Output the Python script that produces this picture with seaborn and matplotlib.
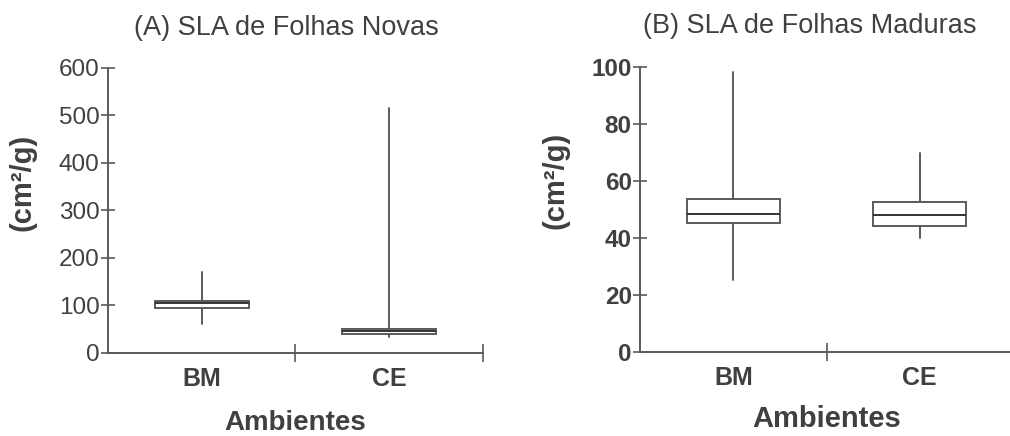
import matplotlib
matplotlib.use("Agg")
import matplotlib.pyplot as plt
import seaborn as sns

groups = ["BM", "CE"]

# (A) folhas novas - summary
novas_med = [105, 46]
novas_q1 = [95, 39]
novas_q3 = [110, 50]
novas_lo = [61, 34]
novas_hi = [170, 515]

# (B) folhas maduras
maduras_med = [48.5, 48.0]
maduras_q1 = [45.3, 44.2]
maduras_q3 = [53.5, 52.5]
maduras_lo = [25.4, 40.0]
maduras_hi = [98.0, 69.7]

sns.set_style("ticks")
plt.rcParams['font.family'] = ['Liberation Sans', 'DejaVu Sans']

txt = "#404040"
line = "#5a5a5a"


def stats(med, q1, q3, lo, hi):
    out = []
    for i in range(len(groups)):
        out.append({
            'label': groups[i],
            'med': med[i],
            'q1': q1[i],
            'q3': q3[i],
            'whislo': lo[i],
            'whishi': hi[i],
            'fliers': [],
        })
    return out


def draw(ax, st, ymax, step, title, title_x, bold_ticks, xl_size, xl_pad):
    ax.bxp(
        st,
        positions=[1, 2],
        widths=0.5,
        showcaps=False,
        showfliers=False,
        patch_artist=True,
        boxprops=dict(facecolor="white", edgecolor=line, linewidth=1.4),
        whiskerprops=dict(color=line, linewidth=1.4),
        medianprops=dict(color="#333333", linewidth=1.4),
    )
    ax.set_xlim(0.5, 2.5)
    ax.set_ylim(0, ymax)
    ax.set_yticks(range(0, ymax + 1, step))
    ax.set_xticks([1.5, 2.5])
    ax.set_xticklabels(["", ""])
    ax.set_xticks([1, 2], minor=True)
    ax.set_xticklabels(groups, minor=True, fontsize=18, fontweight="bold", color=txt)
    ax.tick_params(axis="x", which="minor", length=0, pad=10)
    ax.tick_params(axis="x", which="major", direction="inout", length=13, width=1.2, color=line)
    ax.tick_params(axis="y", direction="inout", length=10, width=1.2, color=line,
                   labelsize=17.5, labelcolor=txt, pad=1)
    if bold_ticks:
        for t in ax.get_yticklabels():
            t.set_fontweight("bold")
    sns.despine(ax=ax)
    for s in ["left", "bottom"]:
        ax.spines[s].set_color(line)
        ax.spines[s].set_linewidth(1.4)
    ax.set_ylabel("(cm²/g)", fontsize=21, fontweight="bold", color=txt)
    ax.yaxis.set_label_coords(-0.19, 0.60)
    ax.set_xlabel("Ambientes", fontsize=xl_size, fontweight="bold", color=txt, labelpad=xl_pad)
    ax.set_title(title, fontsize=19.5, color=txt, x=title_x, pad=24)


fig = plt.figure(figsize=(10.1, 4.36), dpi=100)
ax1 = fig.add_axes([0.1069, 0.1904, 0.3713, 0.6537])
ax2 = fig.add_axes([0.6337, 0.1927, 0.3693, 0.6544])

draw(ax1, stats(novas_med, novas_q1, novas_q3, novas_lo, novas_hi),
     600, 100, "(A) SLA de Folhas Novas", 0.477, False, 20, 14)
draw(ax2, stats(maduras_med, maduras_q1, maduras_q3, maduras_lo, maduras_hi),
     100, 20, "(B) SLA de Folhas Maduras", 0.456, True, 21, 11)

fig.savefig("out.png", dpi=100)
